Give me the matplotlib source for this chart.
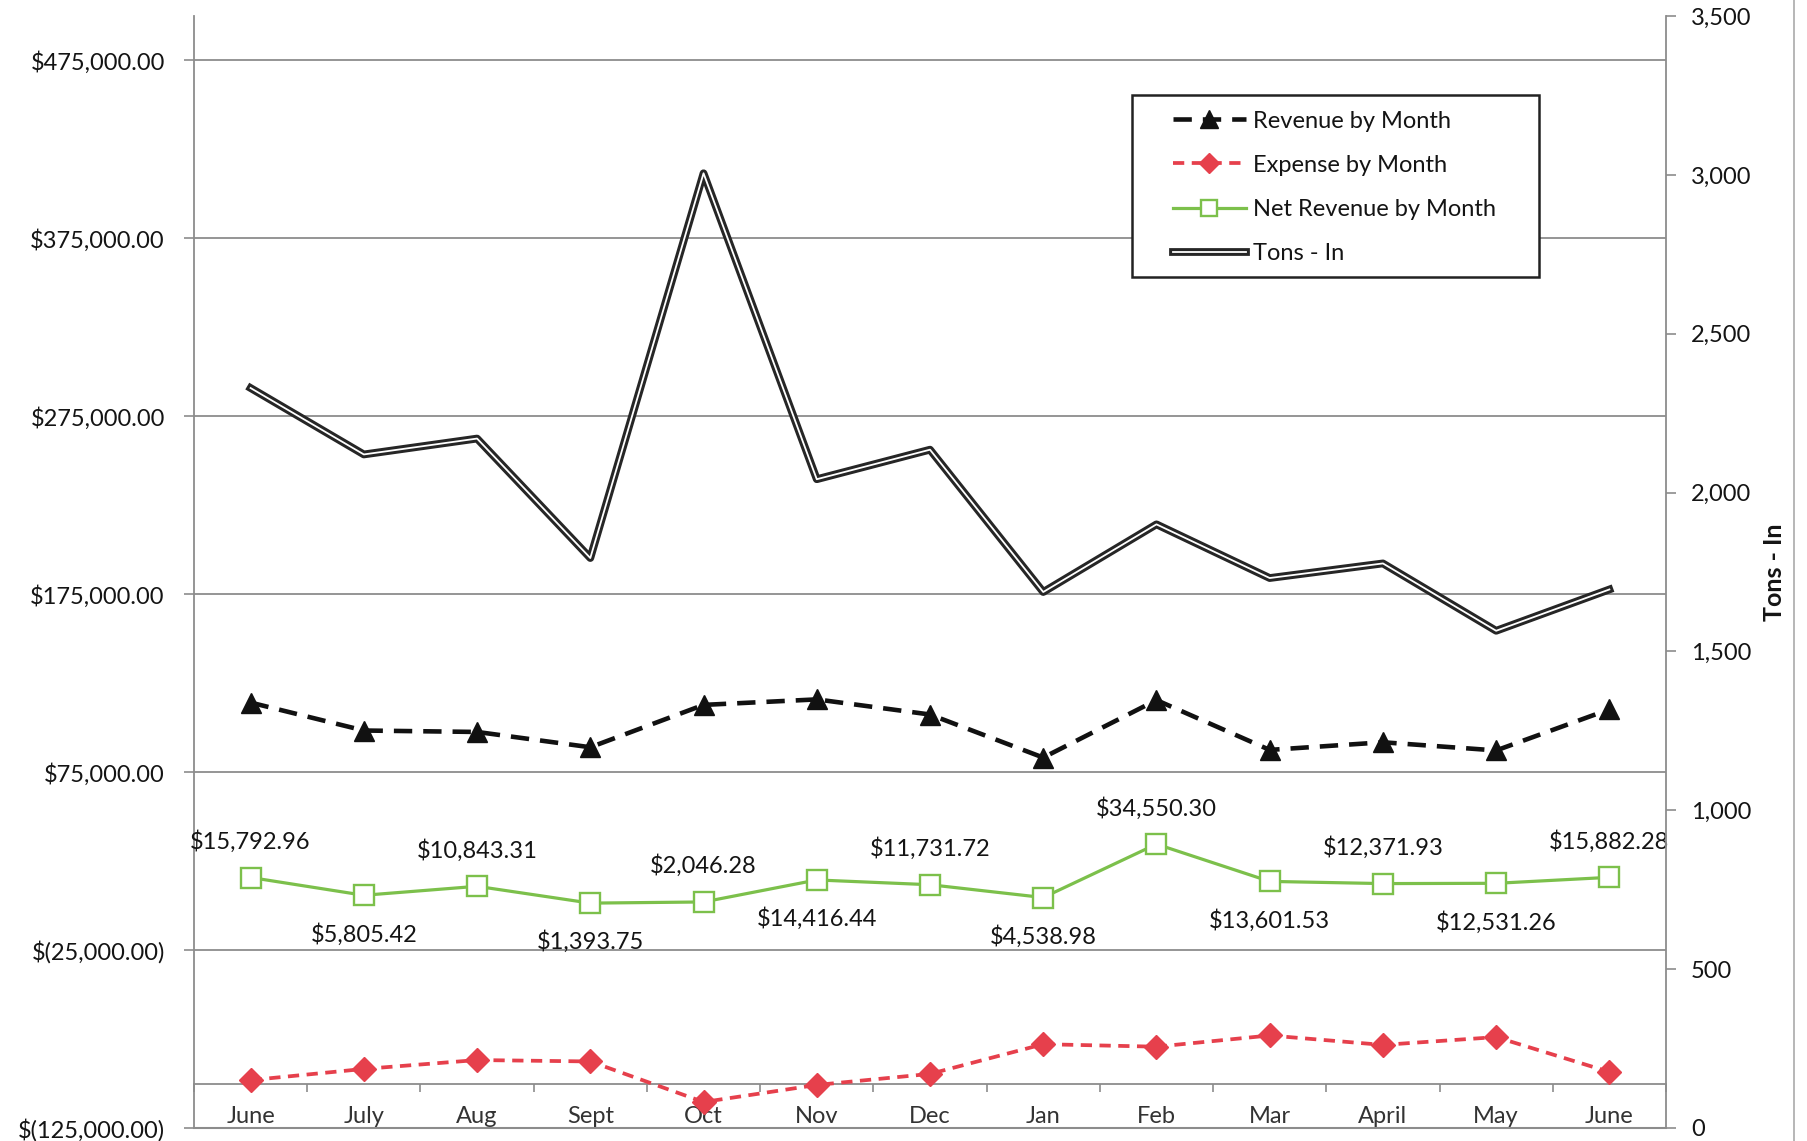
import matplotlib
matplotlib.use("Agg")
import matplotlib.pyplot as plt
import matplotlib.ticker as ticker
import matplotlib.patheffects as pe
from matplotlib.patches import Rectangle
from matplotlib.lines import Line2D

plt.rcParams["font.family"] = ["Lato", "DejaVu Sans"]

# ── Data ──────────────────────────────────────────────────────────────────────

MONTHS = ["June", "July", "Aug", "Sept", "Oct", "Nov", "Dec",
          "Jan", "Feb", "Mar", "April", "May", "June"]

REVENUE = [114100, 98400, 97600, 89000, 112800, 115900, 107400,
           83200, 115500, 87500, 91800, 87200, 110300]
EXPENSE = [-98100, -91800, -86800, -87600, -110400, -100800, -94600,
           -77900, -79300, -73000, -78300, -73900, -93500]
NET = [15792.96, 5805.42, 10843.31, 1393.75, 2046.28, 14416.44, 11731.72,
       4538.98, 34550.30, 13601.53, 12371.93, 12531.26, 15882.28]
TONS = [2329, 2120, 2170, 1794, 3005, 2042, 2135,
        1687, 1900, 1731, 1777, 1565, 1695]

LEFT_TICKS = [-125000, -25000, 75000, 175000, 275000, 375000, 475000]
RIGHT_TICKS = [0, 500, 1000, 1500, 2000, 2500, 3000, 3500]

# ── Helpers ───────────────────────────────────────────────────────────────────

def fmt_money(v, _=None):
    if v < 0:
        return f"$({-v:,.2f})"
    return f"${v:,.2f}"

GRID = "#8c8c8c"
TXT = "#141414"
FS = 17

# ── Figure ────────────────────────────────────────────────────────────────────

fig = plt.figure(figsize=(18.08, 11.41), dpi=100)
ax = fig.add_axes([194 / 1808, 1 - 1128 / 1141, (1666 - 194) / 1808, (1128 - 16) / 1141])
ax2 = ax.twinx()

x = list(range(len(MONTHS)))

ax.plot(x, REVENUE, color="#111111", lw=3.3, ls=(0, (4, 2.4)),
        marker="^", ms=15, label="Revenue by Month", zorder=3)
ax.plot(x, EXPENSE, color="#e6404c", lw=2.7, ls=(0, (3, 2)),
        marker="D", ms=12, label="Expense by Month", zorder=3)
ax.plot(x, NET, color="#7cc04b", lw=2.3, marker="s", ms=14,
        mfc="white", mec="#7cc04b", mew=1.7, label="Net Revenue by Month", zorder=3)
ax2.plot(x, TONS, color="white", lw=1.3, label="Tons - In",
         path_effects=[pe.Stroke(linewidth=5.6, foreground="#262626"), pe.Normal()])

# net revenue labels, alternating above / below
for i, v in enumerate(NET):
    dy = 26 if i % 2 == 0 else -28
    ax.annotate(fmt_money(v), (i, v), xytext=(0, dy), textcoords="offset points",
                ha="center", va="center", fontsize=FS, color=TXT,
                annotation_clip=False)

# ── Axes styling ──────────────────────────────────────────────────────────────

ax.set_xlim(-0.5, len(MONTHS) - 0.5)
ax.set_ylim(-125000, 500000)
ax.set_yticks(LEFT_TICKS)
ax.yaxis.set_major_formatter(ticker.FuncFormatter(fmt_money))
ax.tick_params(axis="y", direction="out", length=7, width=1.2, color=GRID,
               labelsize=FS, labelcolor=TXT, pad=14)

ax.set_xticks(x)
ax.set_xticklabels(MONTHS)
ax.set_xticks([i - 0.5 for i in range(len(MONTHS) + 1)], minor=True)
ax.tick_params(axis="x", which="major", length=0, labelsize=FS, labelcolor="#333333", pad=16)
ax.tick_params(axis="x", which="minor", direction="out", length=6, width=1.2, color=GRID)

ax.spines["bottom"].set_position(("data", -100000))
ax.spines["bottom"].set_color(GRID)
ax.spines["bottom"].set_linewidth(1.3)
ax.spines["left"].set_color(GRID)
ax.spines["left"].set_linewidth(1.3)
ax.spines["top"].set_visible(False)
ax.spines["right"].set_visible(False)

ax.yaxis.grid(True, color=GRID, lw=1.3)
ax.set_axisbelow(True)
ax.axhline(-125000, color=GRID, lw=1.5, clip_on=False, zorder=1)

ax2.set_ylim(0, 3500)
ax2.set_yticks(RIGHT_TICKS)
ax2.yaxis.set_major_formatter(ticker.FuncFormatter(lambda v, _: f"{v:,.0f}"))
ax2.tick_params(axis="y", direction="out", length=7, width=1.2, color=GRID,
                labelsize=FS, labelcolor=TXT, pad=11)
for s in ["top", "bottom", "left"]:
    ax2.spines[s].set_visible(False)
ax2.spines["right"].set_color(GRID)
ax2.spines["right"].set_linewidth(1.3)
ax2.set_ylabel("Tons - In", fontsize=18, fontweight="bold", color=TXT, labelpad=8)

# ── Legend ────────────────────────────────────────────────────────────────────

ax2.add_patch(Rectangle((0.637, 0.765), 0.277, 0.164, transform=ax2.transAxes,
                        fc="white", ec="#222222", lw=1.8, zorder=4))
h1, l1 = ax.get_legend_handles_labels()
h2, l2 = ax2.get_legend_handles_labels()
leg = ax2.legend(h1 + h2, l1 + l2, frameon=False, loc="upper left",
                 bbox_to_anchor=(0.665, 0.915), borderpad=0, borderaxespad=0,
                 handlelength=3.1, handletextpad=0.3, labelspacing=0.98,
                 fontsize=FS, labelcolor=TXT, markerscale=0.85)
leg.set_zorder(5)

# scanned page edge
fig.add_artist(Line2D([0.992, 0.992], [0, 1], transform=fig.transFigure,
                      color="#aaaaaa", lw=1.2))

fig.savefig("out.png", dpi=100)
